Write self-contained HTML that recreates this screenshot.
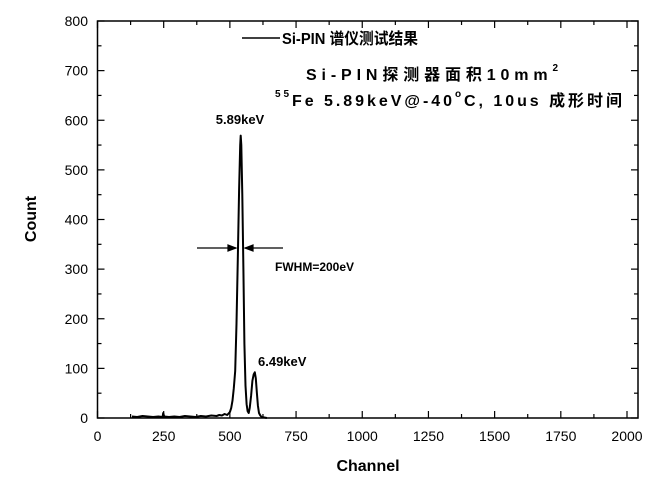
<!DOCTYPE html>
<html><head><meta charset="utf-8"><style>
html,body{margin:0;padding:0;background:#fff;}
svg{display:block;font-family:"Liberation Sans","Noto Sans CJK SC",sans-serif;}
</style></head><body>
<svg id="c" width="663" height="484" viewBox="0 0 663 484">
<g id="axes"></g>
<g id="series"></g>
<g id="ann">
 <text x="240" y="124" font-size="13" font-weight="bold" text-anchor="middle">5.89keV</text>
 <text x="258" y="366" font-size="13" font-weight="bold">6.49keV</text>
 <text x="275" y="271" font-size="12" font-weight="bold">FWHM=200eV</text>
 <g stroke="#000" stroke-width="1.2">
  <line x1="197" y1="248" x2="236" y2="248"/>
  <polygon points="236,248 228,245 228,251" fill="#000"/>
  <line x1="283" y1="248" x2="245" y2="248"/>
  <polygon points="245,248 253,245 253,251" fill="#000"/>
 </g>
 <g font-weight="bold" font-size="16">
  <line x1="242" y1="38" x2="280" y2="38" stroke="#000" stroke-width="1.5"/>
  <text x="282" y="44" textLength="136" lengthAdjust="spacingAndGlyphs">Si-PIN 谱仪测试结果</text>
  <text x="306" y="80" textLength="252" lengthAdjust="spacing">Si-PIN探测器面积10mm<tspan font-size="10" dy="-9">2</tspan></text>
  <text x="275" y="106" textLength="347" lengthAdjust="spacing"><tspan font-size="10" dy="-9">55</tspan><tspan dy="9">Fe  5.89keV@-40</tspan><tspan font-size="10" dy="-9">o</tspan><tspan dy="9">C, 10us 成形时间</tspan></text>
 </g>
 <text x="368" y="471" font-size="16" font-weight="bold" text-anchor="middle">Channel</text>
 <text transform="translate(36,219) rotate(-90)" font-size="16" font-weight="bold" text-anchor="middle">Count</text>
</g>
</svg>
<script>
const channels=[130,150,170,190,210,230,246,248,252,270,290,310,330,350,370,390,410,430,450,460,470,480,490,500,505,510,515,520,525,530,535,539,541,543,547,551,555,559,563,567,571,575,580,585,590,594,598,602,606,610,615,620,630,640];
const counts=[3,2,4,3,2,3,2,10,3,2,3,2,4,3,2,4,3,5,4,6,5,8,6,12,20,35,60,95,190,320,460,550,569,550,450,300,150,65,28,14,10,20,45,75,88,92,80,50,25,10,5,2,1,0];
const xTicks=[0,250,500,750,1000,1250,1500,1750,2000];
const yTicks=[0,100,200,300,400,500,600,700,800];
const X0=97.5,XR=638,Y0=418,YT=21;
const xs=v=>X0+v*0.26475;
const ys=v=>Y0-(v/800)*(Y0-YT);
const NS="http://www.w3.org/2000/svg";
const ax=document.getElementById('axes');
function mk(t,a,p){const e=document.createElementNS(NS,t);for(const k in a)e.setAttribute(k,a[k]);(p||ax).appendChild(e);return e;}
const fr=mk('rect',{x:X0,y:YT,width:XR-X0,height:Y0-YT,fill:'none',stroke:'#000','stroke-width':1.5});


for(let v=0;v<=2000;v+=125){const x=xs(v),L=(v%250===0)?7:4;
 const t1=mk('line',{x1:x,y1:Y0,x2:x,y2:Y0-L,stroke:'#000','stroke-width':1.2});
 
 
 const t2=mk('line',{x1:x,y1:YT,x2:x,y2:YT+L,stroke:'#000','stroke-width':1.2});
 
 }
for(let v=0;v<=800;v+=50){const y=ys(v),L=(v%100===0)?7:4;
 const t1=mk('line',{x1:X0,y1:y,x2:X0+L,y2:y,stroke:'#000','stroke-width':1.2});
 
 
 const t2=mk('line',{x1:XR,y1:y,x2:XR-L,y2:y,stroke:'#000','stroke-width':1.2});
 
 }
xTicks.forEach(v=>{const t=mk('text',{x:xs(v),y:441,'font-size':14,'text-anchor':'middle'});t.textContent=v;
 
 });
yTicks.forEach(v=>{const t=mk('text',{x:88,y:ys(v)+5,'font-size':14,'text-anchor':'end'});t.textContent=v;
 
 });
const pts=channels.map((c,i)=>xs(c).toFixed(1)+','+ys(counts[i]).toFixed(1)).join(' ');
const pl=mk('polyline',{points:pts,fill:'none',stroke:'#000','stroke-width':2,'stroke-linejoin':'round'},document.getElementById('series'));


</script>
</body></html>
